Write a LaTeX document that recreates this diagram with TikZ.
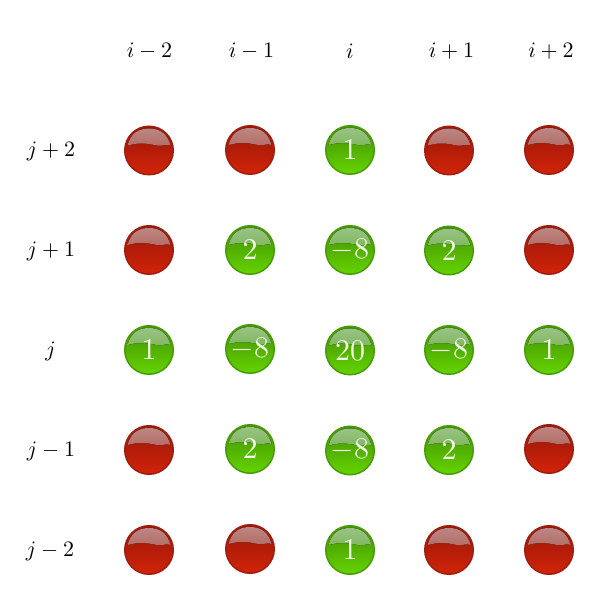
\documentclass[tikz,border=0pt]{standalone}
\definecolor{redEdge}{HTML}{A01E0E}
\definecolor{redTop}{HTML}{961608}
\definecolor{redBot}{HTML}{D22409}
\definecolor{redHiA}{HTML}{BC8A86}
\definecolor{redHiB}{HTML}{AA4238}
\definecolor{greenEdge}{HTML}{479C06}
\definecolor{greenTop}{HTML}{428F02}
\definecolor{greenBot}{HTML}{64D400}
\definecolor{greenHiA}{HTML}{9CC48A}
\definecolor{greenHiB}{HTML}{5AA622}
\newcommand{\ballhi}[2]{\fill[top color=#1,bottom color=#2]
  ([shift={(-21.5pt,5pt)}]path picture bounding box.center)
  .. controls +(3pt,11pt) and +(-12pt,0pt) .. ([shift={(0pt,22pt)}]path picture bounding box.center)
  .. controls +(12pt,0pt) and +(-3pt,11pt) .. ([shift={(21.5pt,5pt)}]path picture bounding box.center)
  .. controls +(-4pt,2pt) and +(6pt,-1pt) .. ([shift={(8pt,5pt)}]path picture bounding box.center)
  .. controls +(-6pt,1pt) and +(8pt,0pt) .. ([shift={(-8pt,7pt)}]path picture bounding box.center)
  .. controls +(-6pt,0pt) and +(5pt,1pt) .. cycle;}
\tikzset{
  x=1pt,y=1pt,
  axislabel/.style={scale=2.2,inner sep=0pt},
  ballbase/.style={circle,minimum size=48.5pt,inner sep=0pt,line width=1.5pt,shading=axis,shading angle=0,text=white!92!greenBot},
  redball/.style={ballbase,draw=redEdge,top color=redTop,bottom color=redBot,
    path picture={\ballhi{redHiA}{redHiB}}},
  greenball/.style={ballbase,draw=greenEdge,top color=greenTop,bottom color=greenBot,
    path picture={\ballhi{greenHiA}{greenHiB}}},
}
\newcommand{\ballnum}[1]{\scalebox{3}{$#1$}}
\begin{document}
\begin{tikzpicture}
\useasboundingbox (0,0) rectangle (600,600);
\node[axislabel] (ca) at (149.5,549) {$i-2$};
\node[axislabel] (cb) at (251.5,549) {$i-1$};
\node[axislabel] (cc) at (350,549) {$i$};
\node[axislabel] (cd) at (451.5,549) {$i+1$};
\node[axislabel] (ce) at (551,549) {$i+2$};
\node[axislabel] (ra) at (51,449) {$j+2$};
\node[axislabel] (rb) at (51,349) {$j+1$};
\node[axislabel] (rc) at (50.5,249) {$j$};
\node[axislabel] (rd) at (51,149) {$j-1$};
\node[axislabel] (re) at (50,49) {$j-2$};
% row j+2
\node[redball] (a1) at (149,449.5) {};
\node[redball] (a2) at (250,450) {};
\node[greenball] (a3) at (350,450) {\ballnum{1}};
\node[redball] (a4) at (449,449.5) {};
\node[redball] (a5) at (549,450) {};
% row j+1
\node[redball] (b1) at (149,350) {};
\node[greenball] (b2) at (250,350) {\ballnum{2}};
\node[greenball] (b3) at (350,350) {\ballnum{-8}};
\node[greenball] (b4) at (449,349.5) {\ballnum{2}};
\node[redball] (b5) at (549,350) {};
% row j
\node[greenball] (c1) at (149,250) {\ballnum{1}};
\node[greenball] (c2) at (250,251) {\ballnum{-8}};
\node[greenball] (c3) at (350,249.5) {\ballnum{20}};
\node[greenball] (c4) at (449,250) {\ballnum{-8}};
\node[greenball] (c5) at (549,250) {\ballnum{1}};
% row j-1
\node[redball] (d1) at (149,150) {};
\node[greenball] (d2) at (250,151) {\ballnum{2}};
\node[greenball] (d3) at (350,149.5) {\ballnum{-8}};
\node[greenball] (d4) at (449,150) {\ballnum{2}};
\node[redball] (d5) at (549,151) {};
% row j-2
\node[redball] (e1) at (149,50) {};
\node[redball] (e2) at (250,51) {};
\node[greenball] (e3) at (350,50) {\ballnum{1}};
\node[redball] (e4) at (449,50) {};
\node[redball] (e5) at (549,50) {};
\end{tikzpicture}
\end{document}
